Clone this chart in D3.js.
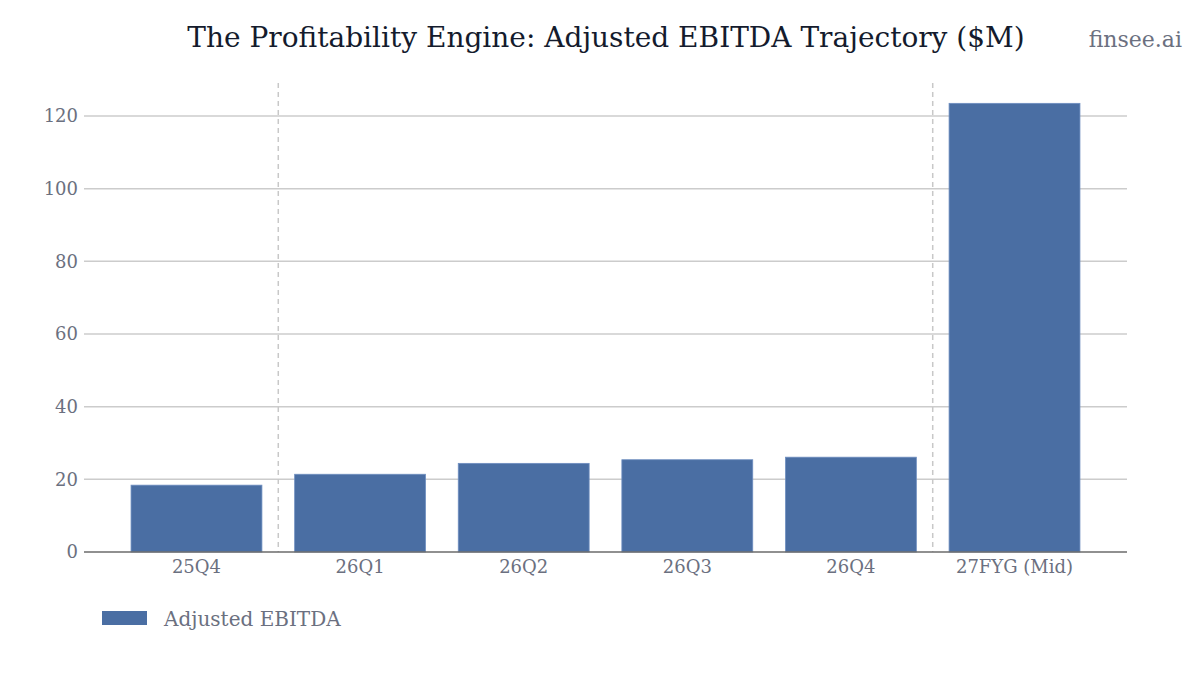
<!DOCTYPE html>
<html>
<head>
<meta charset="utf-8">
<script src="https://cdn.jsdelivr.net/npm/d3@7"></script>
<style>
  body { margin: 0; background: #fff; }
  svg { display: block; font-family: "DejaVu Serif", serif; }
</style>
</head>
<body>
<svg id="chart" width="1200" height="675"></svg>
<script>
var categories = ["25Q4", "26Q1", "26Q2", "26Q3", "26Q4", "27FYG (Mid)"]
var ebitda = [18.4, 21.4, 24.4, 25.4, 26.1, 123.5]
var yTicks = [0, 20, 40, 60, 80, 100, 120]
// dashed separators sit between these category pairs
var dividers = [[0, 1], [4, 5]]

var dimensions = {
    width: 1200,
    height: 675,
    margin: { top: 83, bottom: 123, left: 84, right: 73 }
}

var svg = d3.select("#chart")

var xScale = d3.scaleBand()
               .domain(categories)
               .range([dimensions.margin.left, dimensions.width - dimensions.margin.right])
               .paddingInner(0.2)
               .paddingOuter(0.2875)
var yScale = d3.scaleLinear()
               .domain([0, 129.1])
               .range([dimensions.height - dimensions.margin.bottom, dimensions.margin.top])

var x0 = dimensions.margin.left
var x1 = dimensions.width - dimensions.margin.right

// gridlines
svg.append("g")
   .selectAll("line")
   .data(yTicks.filter(d => d > 0))
   .enter()
   .append("line")
   .attr("x1", x0)
   .attr("x2", x1)
   .attr("y1", d => yScale(d))
   .attr("y2", d => yScale(d))
   .attr("stroke", "#cccccc")
   .attr("stroke-width", 1.5)

// dashed dividers
svg.append("g")
   .selectAll("line")
   .data(dividers)
   .enter()
   .append("line")
   .attr("x1", d => (xScale(categories[d[0]]) + xScale.bandwidth() + xScale(categories[d[1]])) / 2)
   .attr("x2", d => (xScale(categories[d[0]]) + xScale.bandwidth() + xScale(categories[d[1]])) / 2)
   .attr("y1", yScale.range()[1])
   .attr("y2", yScale(0))
   .attr("stroke", "#c8c8c8")
   .attr("stroke-width", 1.5)
   .attr("stroke-dasharray", "5,4")

// bars
svg.append("g")
   .selectAll("rect")
   .data(ebitda)
   .enter()
   .append("rect")
   .attr("x", (d, i) => xScale(categories[i]))
   .attr("y", d => yScale(d))
   .attr("width", xScale.bandwidth())
   .attr("height", d => yScale(0) - yScale(d))
   .attr("fill", "#4a6ea3")
   .attr("stroke", "#6f8fc0")
   .attr("stroke-width", 0.8)

// zero line
svg.append("line")
   .attr("x1", x0)
   .attr("x2", x1)
   .attr("y1", yScale(0))
   .attr("y2", yScale(0))
   .attr("stroke", "#6b6b6b")
   .attr("stroke-width", 1.5)

// y axis labels
var yAxisGen = d3.axisLeft(yScale).tickValues(yTicks).tickSize(0).tickPadding(6)
var yAxis = svg.append("g")
               .attr("transform", `translate(${x0},0)`)
               .call(yAxisGen)
yAxis.select(".domain").remove()
yAxis.selectAll("text")
     .attr("font-family", "DejaVu Serif")
     .attr("font-size", 18)
     .attr("fill", "#6b7080")

// x axis labels
var xAxisGen = d3.axisBottom(xScale).tickSize(0).tickPadding(8)
var xAxis = svg.append("g")
               .attr("transform", `translate(0,${yScale(0)})`)
               .call(xAxisGen)
xAxis.select(".domain").remove()
xAxis.selectAll("text")
     .attr("font-family", "DejaVu Serif")
     .attr("font-size", 18)
     .attr("fill", "#6b7080")

// title
svg.append("text")
   .attr("x", 606)
   .attr("y", 47)
   .attr("text-anchor", "middle")
   .attr("font-size", 28)
   .attr("fill", "#141b2d")
   .text("The Profitability Engine: Adjusted EBITDA Trajectory ($M)")

svg.append("text")
   .attr("x", 1182)
   .attr("y", 47)
   .attr("text-anchor", "end")
   .attr("font-size", 22)
   .attr("fill", "#6b7080")
   .text("finsee.ai")

// legend
var legend = svg.append("g").attr("transform", "translate(102,611)")
legend.append("rect")
      .attr("width", 45)
      .attr("height", 14)
      .attr("fill", "#4a6ea3")
legend.append("text")
      .attr("x", 62)
      .attr("y", 15)
      .attr("font-size", 20)
      .attr("fill", "#6b7080")
      .text("Adjusted EBITDA")
</script>
</body>
</html>
